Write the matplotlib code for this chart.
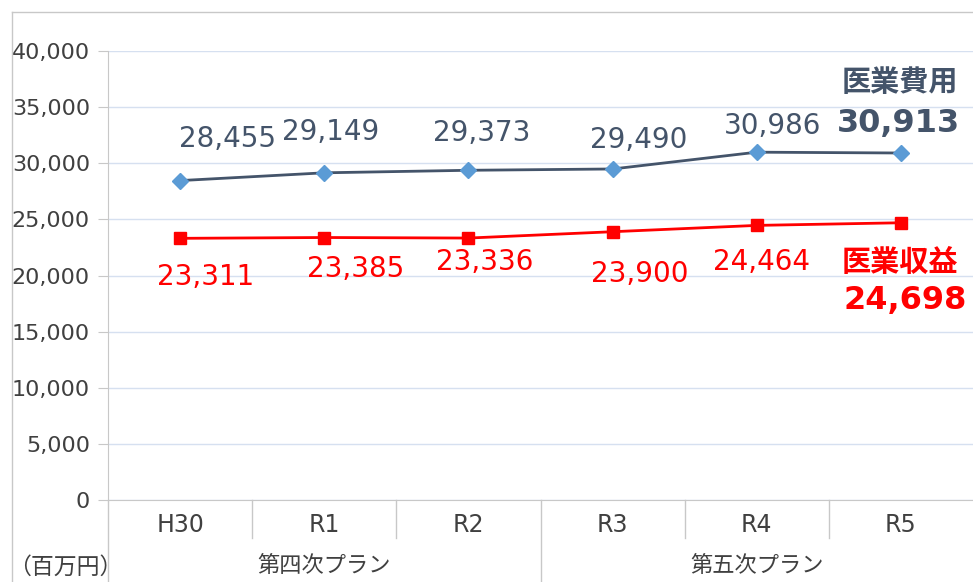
import matplotlib
matplotlib.use("Agg")
import matplotlib.pyplot as plt
import matplotlib.transforms as mtransforms
from matplotlib.lines import Line2D

plt.rcParams['font.family'] = ['DejaVu Sans', 'Noto Sans CJK JP']

# data
years = ["H30", "R1", "R2", "R3", "R4", "R5"]
cost = [28455, 29149, 29373, 29490, 30986, 30913]
revenue = [23311, 23385, 23336, 23900, 24464, 24698]
plans = ["第四次プラン", "第五次プラン"]

# label offsets in pixels (dx, dy)
cost_offsets = [(47, 42), (6, 41), (13, 37), (26, 29), (16, 26)]
rev_offsets = [(26, -39), (31, -31), (16, -24), (27, -42), (5, -37)]

cost_col = '#44546A'
marker_col = '#5B9BD5'
rev_col = '#FF0000'
grid_col = '#D6E0F0'
frame_col = '#C8C8C8'
text_col = '#404040'

W, H = 973, 582
fig = plt.figure(figsize=(W / 100, H / 100), dpi=100)
ax = fig.add_axes([108 / W, 82 / H, 865 / W, 449 / H])

x = range(len(years))
ax.plot(x, cost, color=cost_col, lw=2, marker='D', ms=8,
        mfc=marker_col, mec=marker_col, zorder=3)
ax.plot(x, revenue, color=rev_col, lw=2, marker='s', ms=8,
        mfc=rev_col, mec=rev_col, zorder=3)

# data labels
for i, (dx, dy) in enumerate(cost_offsets):
    ax.annotate(f"{cost[i]:,}", (i, cost[i]), xytext=(dx, dy),
                textcoords='offset pixels', ha='center', va='center',
                fontsize=20, color=cost_col)
for i, (dx, dy) in enumerate(rev_offsets):
    ax.annotate(f"{revenue[i]:,}", (i, revenue[i]), xytext=(dx, dy),
                textcoords='offset pixels', ha='center', va='center',
                fontsize=20, color=rev_col)

# last point labels with series names
last = len(years) - 1
ax.annotate("医業費用", (last, cost[last]), xytext=(-1, 70),
            textcoords='offset pixels', ha='center', va='center',
            fontsize=21, color=cost_col, fontweight='bold')
ax.annotate(f"{cost[last]:,}", (last, cost[last]), xytext=(-2, 30),
            textcoords='offset pixels', ha='center', va='center',
            fontsize=23, color=cost_col, fontweight='bold')
ax.annotate("医業収益", (last, revenue[last]), xytext=(-1, -40),
            textcoords='offset pixels', ha='center', va='center',
            fontsize=21, color=rev_col, fontweight='bold')
ax.annotate(f"{revenue[last]:,}", (last, revenue[last]), xytext=(4, -78),
            textcoords='offset pixels', ha='center', va='center',
            fontsize=23, color=rev_col, fontweight='bold')

# axes
ax.set_xlim(-0.5, len(years) - 0.5)
ax.set_ylim(0, 40000)
ax.set_yticks(range(0, 40001, 5000))
ax.yaxis.set_major_formatter(lambda v, pos: f"{int(v):,}")
ax.grid(axis='y', color=grid_col, lw=1)
ax.set_axisbelow(True)
ax.set_xticks(list(x), years)
ax.tick_params(axis='x', length=0, pad=9, labelsize=17, labelcolor=text_col)
ax.tick_params(axis='y', length=7, color=frame_col, pad=6,
               labelsize=16, labelcolor=text_col)
for side in ['top', 'right']:
    ax.spines[side].set_visible(False)
ax.spines['left'].set_color(frame_col)
ax.spines['bottom'].set_color(frame_col)

# category separators below the axis
trans = mtransforms.blended_transform_factory(ax.transData, ax.transAxes)
for b in [0.5, 1.5, 3.5, 4.5]:
    ax.add_line(Line2D([b, b], [0, -38 / 449], transform=trans,
                       color=frame_col, lw=1, clip_on=False))
ax.add_line(Line2D([2.5, 2.5], [0, -82 / 449], transform=trans,
                   color=frame_col, lw=1, clip_on=False))
ax.add_line(Line2D([-0.5, -0.5], [0, -82 / 449], transform=trans,
                   color=frame_col, lw=1, clip_on=False))

# plan group labels
ax.text(1, -66 / 449, plans[0], transform=trans, ha='center', va='center',
        fontsize=16, color=text_col, family='Noto Sans CJK JP')
ax.text(4, -66 / 449, plans[1], transform=trans, ha='center', va='center',
        fontsize=16, color=text_col, family='Noto Sans CJK JP')

# unit label and outer frame
fig.text(8 / W, 1 - 567 / H, "（百万円）", ha='left', va='center',
         fontsize=16.5, color=text_col, family='Noto Sans CJK JP')
fig.add_artist(Line2D([12 / W, 12 / W], [0, 1 - 12 / H],
                      transform=fig.transFigure, color=frame_col, lw=1))
fig.add_artist(Line2D([12 / W, 1], [1 - 12 / H, 1 - 12 / H],
                      transform=fig.transFigure, color=frame_col, lw=1))

fig.savefig("out.png", dpi=100)
